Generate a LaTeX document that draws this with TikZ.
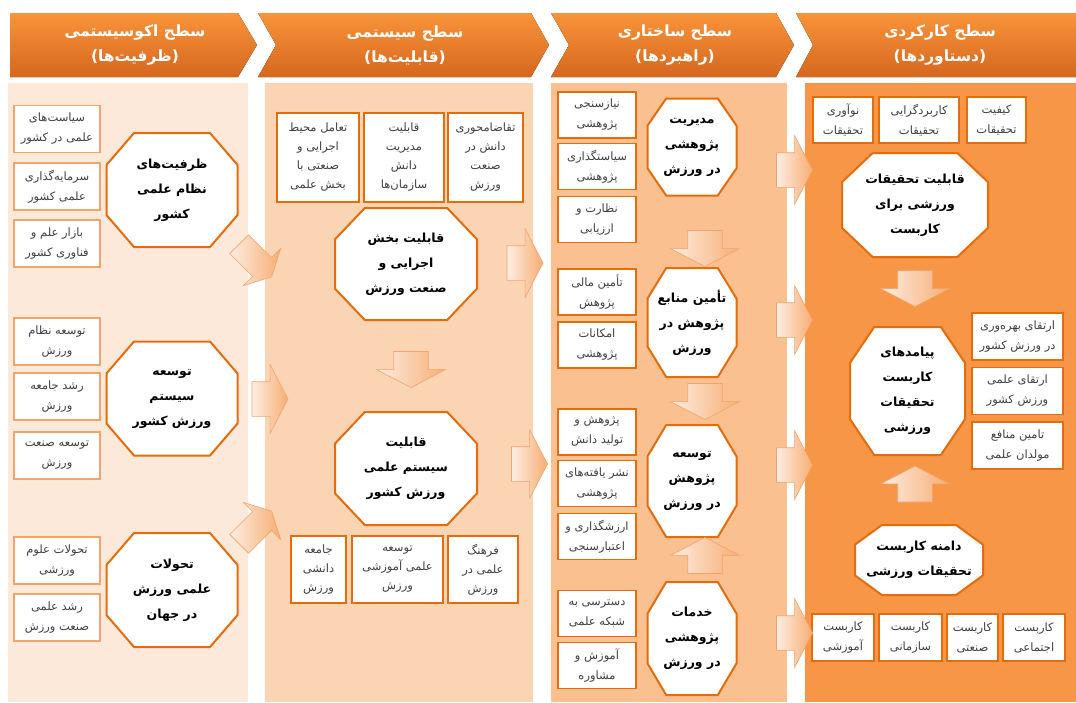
\documentclass[tikz,border=0pt]{standalone}
\usepackage{fontspec}
\usepackage{tikz}
\usetikzlibrary{shapes.arrows}
\usetikzlibrary{positioning}
\newfontfamily\arabicfont[Script=Arabic]{DejaVu Sans}
\TeXXeTstate=1
\definecolor{panelA}{HTML}{FDE9D9}
\definecolor{panelB}{HTML}{FBD4B4}
\definecolor{panelC}{HTML}{FAC090}
\definecolor{panelD}{HTML}{F79646}
\definecolor{hdtop}{HTML}{F9943A}
\definecolor{hdbot}{HTML}{D5671E}
\definecolor{darkorange}{HTML}{E46C0A}
\definecolor{lightline}{HTML}{F2A46C}
\definecolor{arrowlight}{HTML}{FDEDE2}
\definecolor{arrowdark}{HTML}{F7AD72}
\newcommand{\rl}[1]{\beginR#1\endR}
% octagon: name, centre, width, height, text
\newcommand{\octnode}[5]{
  \draw[octline, shift={(#2)}]
    ({-#3/2+0.21*#3},{-#4/2}) -- ({#3/2-0.21*#3},{-#4/2}) -- ({#3/2},{-#4/2+0.28*#4})
    -- ({#3/2},{#4/2-0.28*#4}) -- ({#3/2-0.21*#3},{#4/2}) -- ({-#3/2+0.21*#3},{#4/2})
    -- ({-#3/2},{#4/2-0.28*#4}) -- ({-#3/2},{-#4/2+0.28*#4}) -- cycle;
  \node[octtext, minimum width=#3pt, minimum height=#4pt] (#1) at (#2) {#5};
}
\tikzset{
  header/.style={top color=hdtop, bottom color=hdbot, draw=none},
  headtext/.style={text=white, align=center, font=\arabicfont\bfseries\fontsize{15.5}{25}\selectfont},
  item/.style={draw=darkorange, line width=1.2pt, fill=white, inner sep=0pt, align=center,
    text=black!75, font=\arabicfont\fontsize{11.5}{20}\selectfont},
  itemlight/.style={item, draw=lightline},
  itemtall/.style={item, font=\arabicfont\fontsize{11.5}{19}\selectfont},
  octline/.style={draw=darkorange, line width=2pt, fill=white, line join=round},
  octtext/.style={inner sep=0pt, align=center, font=\arabicfont\bfseries\fontsize{12.5}{25}\selectfont},
  flow/.style={single arrow, draw=lightline, line width=0.6pt, left color=arrowlight,
    right color=arrowdark, inner xsep=0pt, inner ysep=17pt, minimum height=36pt,
    single arrow head extend=17pt, single arrow tip angle=125},
  flowdiag/.style={flow, inner ysep=13pt, single arrow head extend=13pt, minimum height=46pt}
}
\begin{document}
\begin{tikzpicture}[x=1pt, y=-1pt]
    \useasboundingbox[fill=white] (0,0) rectangle (1076,702);

    % panels
    \fill[panelA] (8,83) rectangle (248,702);
    \fill[panelB] (265,83) rectangle (533,702);
    \fill[panelC] (551,83) rectangle (787,702);
    \fill[panelD] (805,83) rectangle (1076,702);

    % headers
    \fill[header] (10,13) -- (238,13) -- (257,45) -- (238,77) -- (10,77) -- cycle;
    \fill[header] (258,13) -- (531,13) -- (549,45) -- (531,77) -- (258,77) -- (276,45) -- cycle;
    \fill[header] (551,13) -- (776,13) -- (794,45) -- (776,77) -- (551,77) -- (569,45) -- cycle;
    \fill[header] (796,13) -- (1076,13) -- (1076,77) -- (796,77) -- (813,45) -- cycle;
    \node[headtext] (h1) at (135,45) {\rl{سطح اکوسیستمی}\\\rl{(ظرفیت‌ها)}};
    \node[headtext] (h2) at (405,45) {\rl{سطح سیستمی}\\\rl{(قابلیت‌ها)}};
    \node[headtext] (h3) at (675,45) {\rl{سطح ساختاری}\\\rl{(راهبردها)}};
    \node[headtext] (h4) at (940,45) {\rl{سطح کارکردی}\\\rl{(دستاوردها)}};

    % ecosystem level
    \node[itemlight, minimum width=86pt, minimum height=47pt] (a1) at (57,129) {\rl{سیاست‌های}\\\rl{علمی در کشور}};
    \node[itemlight, minimum width=86pt, minimum height=47pt] (a2) at (57,186.5) {\rl{سرمایه‌گذاری}\\\rl{علمی کشور}};
    \node[itemlight, minimum width=86pt, minimum height=47pt] (a3) at (57,243.5) {\rl{بازار علم و}\\\rl{فناوری کشور}};
    \node[itemlight, minimum width=86pt, minimum height=47pt] (b1) at (57,341.5) {\rl{توسعه نظام}\\\rl{ورزش}};
    \node[itemlight, minimum width=86pt, minimum height=47pt] (b2) at (57,396.5) {\rl{رشد جامعه}\\\rl{ورزش}};
    \node[itemlight, minimum width=86pt, minimum height=47pt] (b3) at (57,455.5) {\rl{توسعه صنعت}\\\rl{ورزش}};
    \node[itemlight, minimum width=86pt, minimum height=47pt] (c1) at (57,560.5) {\rl{تحولات علوم}\\\rl{ورزشی}};
    \node[itemlight, minimum width=86pt, minimum height=47pt] (c2) at (57,617.5) {\rl{رشد علمی}\\\rl{صنعت ورزش}};
    \octnode{capA}{172,190}{131}{114}{\rl{ظرفیت‌های}\\\rl{نظام علمی}\\\rl{کشور}}
    \octnode{capB}{172,398.5}{131}{114}{\rl{توسعه}\\\rl{سیستم}\\\rl{ورزش کشور}}
    \octnode{capC}{172,590}{131}{114}{\rl{تحولات}\\\rl{علمی ورزش}\\\rl{در جهان}}

    % system level
    \node[itemtall, minimum width=82pt, minimum height=89pt] (d1) at (318,157.5) {\rl{تعامل محیط}\\\rl{اجرایی و}\\\rl{صنعتی با}\\\rl{بخش علمی}};
    \node[itemtall, minimum width=80pt, minimum height=89pt] (d2) at (404,157.5) {\rl{قابلیت}\\\rl{مدیریت}\\\rl{دانش}\\\rl{سازمان‌ها}};
    \node[itemtall, minimum width=75pt, minimum height=89pt] (d3) at (485.5,157.5) {\rl{تقاضامحوری}\\\rl{دانش در}\\\rl{صنعت}\\\rl{ورزش}};
    \octnode{sysD}{406,264}{142}{112}{\rl{قابلیت بخش}\\\rl{اجرایی و}\\\rl{صنعت ورزش}}
    \octnode{sysE}{406,468.5}{142}{113}{\rl{قابلیت}\\\rl{سیستم علمی}\\\rl{ورزش کشور}}
    \node[itemtall, minimum width=55pt, minimum height=67pt] (e1) at (318.5,569.5) {\rl{جامعه}\\\rl{دانشی}\\\rl{ورزش}};
    \node[itemtall, minimum width=91pt, minimum height=67pt] (e2) at (397.5,569.5) {\rl{توسعه}\\\rl{علمی آموزشی}\\\rl{ورزش}};
    \node[itemtall, minimum width=70pt, minimum height=67pt] (e3) at (483,569.5) {\rl{فرهنگ}\\\rl{علمی در}\\\rl{ورزش}};

    % structural level
    \node[item, minimum width=78pt, minimum height=46pt] (f1) at (597,115) {\rl{نیازسنجی}\\\rl{پژوهشی}};
    \node[item, minimum width=78pt, minimum height=46pt] (f2) at (597,166.5) {\rl{سیاستگذاری}\\\rl{پژوهشی}};
    \node[item, minimum width=78pt, minimum height=46pt] (f3) at (597,219.5) {\rl{نظارت و}\\\rl{ارزیابی}};
    \node[item, minimum width=78pt, minimum height=46pt] (g1) at (597,292) {\rl{تأمین مالی}\\\rl{پژوهش}};
    \node[item, minimum width=78pt, minimum height=46pt] (g2) at (597,345) {\rl{امکانات}\\\rl{پژوهشی}};
    \node[item, minimum width=78pt, minimum height=46pt] (h1b) at (597,432) {\rl{پژوهش و}\\\rl{تولید دانش}};
    \node[item, minimum width=78pt, minimum height=46pt] (h2b) at (597,483.5) {\rl{نشر یافته‌های}\\\rl{پژوهشی}};
    \node[item, minimum width=78pt, minimum height=46pt] (h3b) at (597,536.5) {\rl{ارزشگذاری و}\\\rl{اعتبارسنجی}};
    \node[item, minimum width=78pt, minimum height=46pt] (i1) at (597,613.5) {\rl{دسترسی به}\\\rl{شبکه علمی}};
    \node[item, minimum width=78pt, minimum height=46pt] (i2) at (597,665.5) {\rl{آموزش و}\\\rl{مشاوره}};
    \octnode{strF}{692,147}{89}{97}{\rl{مدیریت}\\\rl{پژوهشی}\\\rl{در ورزش}}
    \octnode{strG}{692,322.5}{89}{109}{\rl{تأمین منابع}\\\rl{پژوهش در}\\\rl{ورزش}}
    \octnode{strH}{692,481}{89}{112}{\rl{توسعه}\\\rl{پژوهش}\\\rl{در ورزش}}
    \octnode{strI}{692,638.5}{89}{113}{\rl{خدمات}\\\rl{پژوهشی}\\\rl{در ورزش}}

    % functional level
    \node[item, minimum width=60pt, minimum height=46pt] (j1) at (843,120) {\rl{نوآوری}\\\rl{تحقیقات}};
    \node[item, minimum width=80pt, minimum height=46pt] (j2) at (919,120) {\rl{کاربردگرایی}\\\rl{تحقیقات}};
    \node[item, minimum width=59pt, minimum height=46pt] (j3) at (996.5,120) {\rl{کیفیت}\\\rl{تحقیقات}};
    \octnode{funJ}{915,205}{146}{104}{\rl{قابلیت تحقیقات}\\\rl{ورزشی برای}\\\rl{کاربست}}
    \octnode{funK}{907.5,391}{115}{128}{\rl{پیامدهای}\\\rl{کاربست}\\\rl{تحقیقات}\\\rl{ورزشی}}
    \node[item, minimum width=91pt, minimum height=47pt] (k1) at (1017.5,336.5) {\rl{ارتقای بهره‌وری}\\\rl{در ورزش کشور}};
    \node[item, minimum width=91pt, minimum height=47pt] (k2) at (1017.5,391) {\rl{ارتقای علمی}\\\rl{ورزش کشور}};
    \node[item, minimum width=91pt, minimum height=47pt] (k3) at (1017.5,445.5) {\rl{تامین منافع}\\\rl{مولدان علمی}};
    \octnode{funL}{919,560}{128}{70}{\rl{دامنه کاربست}\\\rl{تحقیقات ورزشی}}
    \node[item, minimum width=62pt, minimum height=47pt] (l1) at (843,637.5) {\rl{کاربست}\\\rl{آموزشی}};
    \node[item, minimum width=63pt, minimum height=47pt] (l2) at (910.5,637.5) {\rl{کاربست}\\\rl{سازمانی}};
    \node[item, minimum width=51pt, minimum height=47pt] (l3) at (972.5,637.5) {\rl{کاربست}\\\rl{صنعتی}};
    \node[item, minimum width=62pt, minimum height=47pt] (l4) at (1034,637.5) {\rl{کاربست}\\\rl{اجتماعی}};

    % block arrows
    \node[flowdiag, rotate=-45] (ar1) at (253,258) {};
    \node[flow] (ar2) at (265.5,399) {};
    \node[flowdiag, rotate=45] (ar3) at (253,530) {};
    \node[flow, rotate=-90] (ar4) at (411,365) {};
    \node[flow] (ar5) at (520.5,263) {};
    \node[flow] (ar6) at (525,464) {};
    \node[flow, rotate=-90] (ar7) at (705,244) {};
    \node[flow, rotate=-90] (ar8) at (705,397) {};
    \node[flow, rotate=90] (ar9) at (705,560) {};
    \node[flow] (ar10) at (790,170) {};
    \node[flow] (ar11) at (790,320) {};
    \node[flow] (ar12) at (790,465) {};
    \node[flow] (ar13) at (790,633) {};
    \node[flow, rotate=-90] (ar14) at (915,284) {};
    \node[flow, rotate=90] (ar15) at (915,488.5) {};
\end{tikzpicture}
\end{document}
